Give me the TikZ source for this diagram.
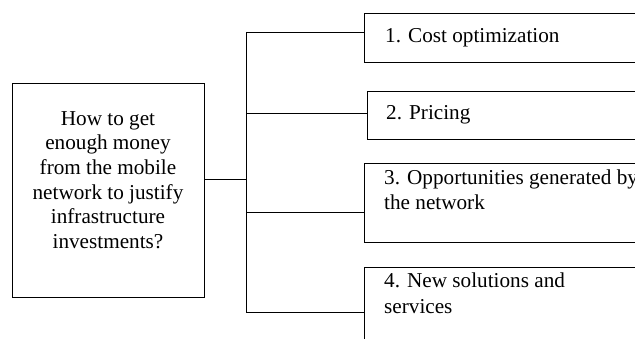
\documentclass[tikz,border=0pt]{standalone}
\usepackage{fontspec}
\setmainfont{Liberation Serif}
\tikzset{
  boxline/.style={draw=black, line width=0.9pt, inner sep=0pt, fill=white},
  conn/.style={draw=black, line width=0.9pt},
  lbl/.style={inner sep=0pt, anchor=base west, align=left, font=\fontsize{21.2}{25}\selectfont},
  qlbl/.style={inner sep=0pt, align=center, font=\fontsize{21.2}{24.6}\selectfont}
}
\begin{document}
\begin{tikzpicture}[x=1pt,y=-1pt]
\useasboundingbox (0,0) rectangle (635,339);
\clip (0,0) rectangle (635,339);
% question box
\node[boxline, minimum width=192pt, minimum height=214pt] (qbox) at (108,190) {};
\node[qlbl] (qtext) at (108,180) {How to get\\enough money\\from the mobile\\network to justify\\infrastructure\\investments?};
% answer boxes
\node[boxline, anchor=north west, minimum width=340pt, minimum height=49pt] (b1) at (364,13) {};
\node[boxline, anchor=north west, minimum width=340pt, minimum height=48pt] (b2) at (367,91) {};
\node[boxline, anchor=north west, minimum width=340pt, minimum height=79pt] (b3) at (364,163) {};
\node[boxline, anchor=north west, minimum width=340pt, minimum height=110pt] (b4) at (364,267) {};
\node[lbl] (t1) at (385,43) {1. Cost optimization};
\node[lbl] (t2) at (386,120) {2. Pricing};
\node[lbl] (t3) at (384,210) {3. Opportunities generated by\\the network};
\node[lbl] (t4) at (384,313) {4. New solutions and\\services};
% trunk
\coordinate (k1) at (246,32);
\coordinate (k2) at (246,113);
\coordinate (k3) at (246,212);
\coordinate (k4) at (246,312);
\coordinate (km) at (246,179);
\draw[conn] (k1) -- (k4);
\draw[conn] (km -| qbox.east) -- (km);
\draw[conn] (k1) -- (k1 -| b1.west);
\draw[conn] (k2) -- (k2 -| b2.west);
\draw[conn] (k3) -- (k3 -| b3.west);
\draw[conn] (k4) -- (k4 -| b4.west);
\end{tikzpicture}
\end{document}
